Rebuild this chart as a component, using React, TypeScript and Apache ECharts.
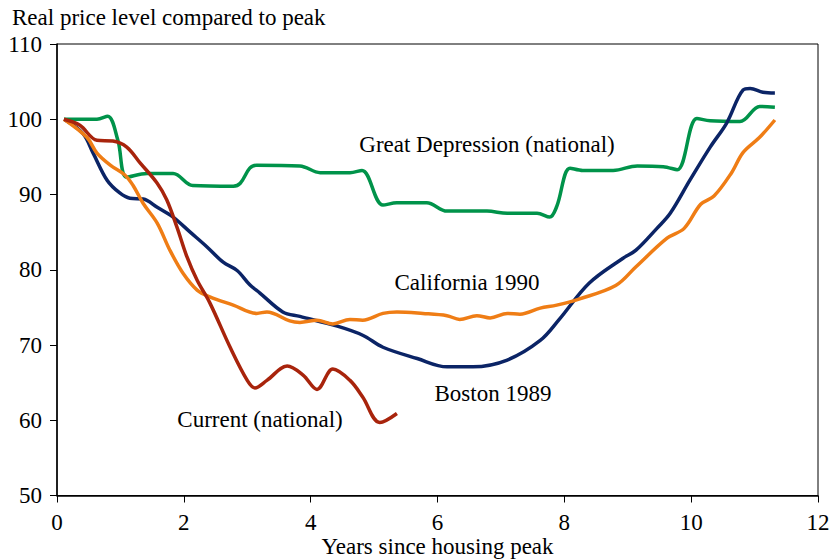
import React, { useEffect, useRef } from "react";
import * as echarts from "echarts";

const xTicks = [0, 2, 4, 6, 8, 10, 12];
const yTicks = [50, 60, 70, 80, 90, 100, 110];

const greatDepression: [number, number][] = [
  [0.11, 100], [0.63, 100], [0.8, 100.4], [0.96, 97.2], [1.1, 92.3], [1.42, 92.8],
  [1.83, 92.8], [2.14, 91.2], [2.78, 91.1], [2.89, 91.5], [3.04, 93.5], [3.15, 93.9],
  [3.83, 93.8], [4.15, 92.9], [4.62, 92.9], [4.81, 93.2], [5.14, 88.6], [5.36, 88.9],
  [5.83, 88.9], [6.15, 87.8], [6.78, 87.8], [7.1, 87.5], [7.57, 87.5], [7.77, 87.0],
  [7.88, 88.4], [8.09, 93.5], [8.29, 93.2], [8.77, 93.2], [9.15, 93.8], [9.56, 93.7],
  [9.78, 93.3], [10.09, 100.1], [10.3, 99.8], [10.77, 99.7], [11.08, 101.7], [11.32, 101.6],
];

const boston1989: [number, number][] = [
  [0.11, 100], [0.41, 98.1], [0.57, 95.5], [0.79, 91.9], [0.99, 90.2], [1.15, 89.5],
  [1.36, 89.4], [1.58, 88.3], [1.83, 87.0], [2.1, 85.0], [2.37, 83.0], [2.62, 81.0],
  [2.84, 79.9], [3.04, 78.0], [3.2, 76.9], [3.56, 74.4], [3.83, 73.8], [4.42, 72.5],
  [4.82, 71.3], [5.14, 69.7], [5.68, 68.2], [6.15, 67.1], [6.56, 67.1], [7.1, 68.0],
  [7.62, 70.6], [7.92, 73.4], [8.39, 78.2], [8.92, 81.5], [9.13, 82.6], [9.46, 85.5],
  [9.67, 87.5], [9.98, 91.9], [10.3, 96.3], [10.56, 99.5], [10.82, 103.9], [10.93, 104.1],
  [11.13, 103.6], [11.32, 103.5],
];

const california1990: [number, number][] = [
  [0.11, 100], [0.47, 97.6], [0.63, 95.5], [0.84, 93.9], [1.07, 92.6], [1.2, 91.2],
  [1.36, 88.8], [1.58, 86.2], [1.78, 82.6], [1.99, 79.5], [2.21, 77.3], [2.41, 76.4],
  [2.78, 75.3], [3.15, 74.2], [3.31, 74.4], [3.67, 73.2], [3.83, 73.0], [4.1, 73.3],
  [4.35, 72.8], [4.62, 73.4], [4.82, 73.3], [5.14, 74.2], [5.36, 74.4], [5.77, 74.2],
  [6.15, 73.9], [6.35, 73.4], [6.62, 73.9], [6.83, 73.6], [7.1, 74.2], [7.3, 74.1],
  [7.62, 74.9], [7.88, 75.3], [8.23, 76.1], [8.81, 77.9], [9.13, 80.4], [9.62, 84.2],
  [9.89, 85.5], [10.15, 88.7], [10.36, 89.8], [10.63, 92.8], [10.82, 95.6], [11.08, 97.6],
  [11.32, 99.9],
];

const currentNational: [number, number][] = [
  [0.11, 100], [0.36, 99.2], [0.63, 97.2], [0.88, 97.1], [1.1, 96.3], [1.31, 94.2],
  [1.58, 91.5], [1.73, 89.3], [1.89, 85.7], [2.05, 81.7], [2.21, 78.6], [2.41, 75.6],
  [2.73, 69.7], [3.0, 65.3], [3.12, 64.3], [3.31, 65.3], [3.63, 67.2], [3.88, 66.0],
  [4.1, 64.1], [4.35, 66.8], [4.62, 65.3], [4.82, 63.1], [5.09, 59.7], [5.36, 60.9],
];

const seriesNames = ["Great Depression (national)", "Boston 1989", "California 1990", "Current (national)"];
const seriesColors = ["#00934A", "#0B2466", "#EF7D15", "#A8240C"];

const FONT = "'Liberation Serif', 'Times New Roman', serif";
const FS = 23;

export default function App() {
  const ref = useRef<HTMLDivElement>(null);
  useEffect(() => {
    if (!ref.current) return;
    const chart = echarts.init(ref.current, undefined, { renderer: "svg" });
    const datasets = [greatDepression, boston1989, california1990, currentNational];
    const labelText = (t: string, x: number, y: number) => ({
      type: "text",
      x,
      y,
      style: { text: t, font: `${FS}px ${FONT}`, fill: "#000", textAlign: "center", textVerticalAlign: "middle" },
    });
    chart.setOption({
      animation: false,
      grid: {
        left: 57,
        right: 11,
        top: 44,
        bottom: 64.5,
        show: true,
        borderColor: "#000",
        borderWidth: 1,
        containLabel: false,
        outerBoundsMode: "none",
      },
      xAxis: {
        type: "value",
        min: xTicks[0],
        max: xTicks[xTicks.length - 1],
        interval: 2,
        name: "Years since housing peak",
        nameLocation: "middle",
        nameGap: 39,
        nameMoveOverlap: false,
        nameTextStyle: { fontFamily: FONT, fontSize: FS, color: "#000" },
        axisLine: { lineStyle: { color: "#000", width: 1.5 } },
        axisTick: { show: true, inside: false, length: 7, lineStyle: { color: "#000" } },
        axisLabel: { fontFamily: FONT, fontSize: FS, color: "#000", margin: 15 },
        splitLine: { show: false },
      },
      yAxis: {
        type: "value",
        min: yTicks[0],
        max: yTicks[yTicks.length - 1],
        interval: 10,
        axisLine: { show: true, lineStyle: { color: "#000", width: 1.5 } },
        axisTick: { show: true, inside: false, length: 7, lineStyle: { color: "#000" } },
        axisLabel: { fontFamily: FONT, fontSize: FS, color: "#000", margin: 15 },
        splitLine: { show: false },
      },
      series: datasets.map((d, i) => ({
        type: "line",
        name: seriesNames[i],
        data: d,
        smooth: 0.35,
        showSymbol: false,
        lineStyle: { color: seriesColors[i], width: 3.5 },
        itemStyle: { color: seriesColors[i] },
      })),
      graphic: [
        {
          type: "text",
          x: 12,
          y: 17,
          style: { text: "Real price level compared to peak", font: `${FS}px ${FONT}`, fill: "#000", textVerticalAlign: "middle" },
        },
        labelText(seriesNames[0], 487, 144),
        labelText(seriesNames[2], 467, 282),
        labelText(seriesNames[1], 493, 393),
        labelText(seriesNames[3], 260, 419),
      ],
    });
    return () => chart.dispose();
  }, []);
  return <div ref={ref} style={{ width: 829, height: 560, position: "absolute", left: 0, top: 0 }} />;
}
